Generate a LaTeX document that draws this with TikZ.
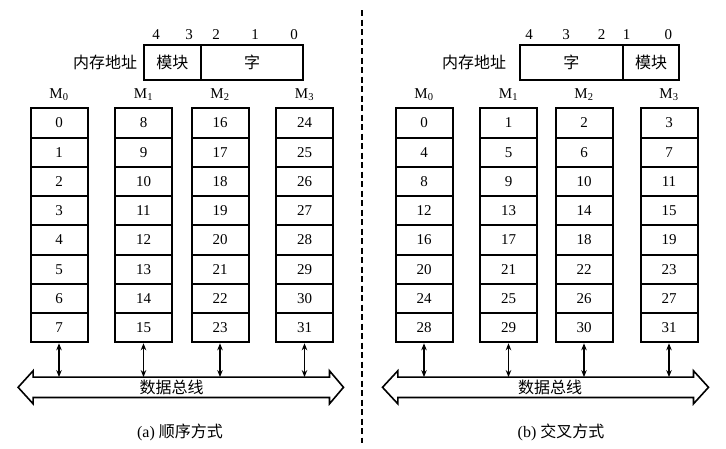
\documentclass[tikz,border=0pt]{standalone}
\usepackage{fontspec}
\setmainfont{Liberation Serif}
\newfontfamily\cjk{Noto Sans CJK SC}
\usetikzlibrary{arrows.meta,calc}
\begin{document}
\begin{tikzpicture}[x=1pt,y=-1pt,
  cell/.style={draw,line width=2pt,minimum width=57pt,minimum height=29.25pt,inner sep=0pt,font=\fontsize{15}{15}\selectfont},
  mlabel/.style={inner sep=0pt,font=\fontsize{15}{15}\selectfont},
  bitlabel/.style={inner sep=0pt,font=\fontsize{15}{15}\selectfont},
  addrbox/.style={draw,line width=2pt,minimum height=35pt,inner sep=0pt,font=\cjk\fontsize{16}{16}\selectfont},
  cjktext/.style={inner sep=0pt,font=\cjk\fontsize{16}{16}\selectfont},
  caption/.style={inner sep=0pt,font=\fontsize{16}{16}\selectfont},
  busbody/.style={minimum height=20pt,inner sep=0pt},
  busline/.style={line width=1.6pt,line join=miter},
  bio/.style={line width=1.2pt,{Stealth[length=7pt,width=5.5pt]}-{Stealth[length=7pt,width=5.5pt]}},
  divider/.style={line width=1.2pt,dash pattern=on 6pt off 3.5pt}
]
\useasboundingbox (0,0) rectangle (726,448);

% ---------- divider ----------
\coordinate (dtop) at (362,10);
\coordinate (dbot) at (362,443);
\draw[divider] (dtop) -- (dbot);

% ---------- left panel (a) ----------
\node[cjktext] (addrA) at (105,62) {内存地址};
\node[addrbox,minimum width=56.7pt] (modA) at (172.35,62.5) {模块};
\node[addrbox,minimum width=102.6pt] (wordA) at (252,62.5) {字};
\node[bitlabel] (bA4) at (156,35) {4};
\node[bitlabel] (bA3) at (189,35) {3};
\node[bitlabel] (bA2) at (216,35) {2};
\node[bitlabel] (bA1) at (255,35) {1};
\node[bitlabel] (bA0) at (294,35) {0};

\node[busbody,minimum width=296pt] (busA) at (181.3,387.3) {};
\draw[busline] (busA.north west) -- (busA.north east) -- ++(0,-6.3)
  -- ($(busA.east)+(14,0)$) -- ($(busA.south east)+(0,6.3)$)
  -- (busA.south east) -- (busA.south west) -- ++(0,6.3)
  -- ($(busA.west)+(-15,0)$) -- ($(busA.north west)+(0,-6.3)$) -- cycle;
\node[cjktext] (busTextA) at (171.5,387.3) {数据总线};

\foreach \cx [count=\c from 0] in {59,143.5,220,304.5} {
  \node[mlabel] (LM\c) at (\cx,95) {M\textsubscript{\c}};
  \foreach \r in {0,...,7} {
    \pgfmathtruncatemacro\v{8*\c+\r}
    \node[cell] (L\c-\r) at (\cx,{108.3+29.25*(\r+0.5)}) {\v};
  }
  \draw[bio] (L\c-7.south) -- (L\c-7.south |- busA.north);
}
\node[caption] (capA) at (180,432) {(a) {\cjk 顺序方式}};

% ---------- right panel (b) ----------
\node[cjktext] (addrB) at (474,62) {内存地址};
\node[addrbox,minimum width=102.7pt] (wordB) at (571.35,62.5) {字};
\node[addrbox,minimum width=56.6pt] (modB) at (651,62.5) {模块};
\node[bitlabel] (bB4) at (529,35) {4};
\node[bitlabel] (bB3) at (566,35) {3};
\node[bitlabel] (bB2) at (601.7,35) {2};
\node[bitlabel] (bB1) at (626.7,35) {1};
\node[bitlabel] (bB0) at (668.3,35) {0};

\node[busbody,minimum width=295.3pt] (busB) at (545.65,387.3) {};
\draw[busline] (busB.north west) -- (busB.north east) -- ++(0,-6.3)
  -- ($(busB.east)+(15,0)$) -- ($(busB.south east)+(0,6.3)$)
  -- (busB.south east) -- (busB.south west) -- ++(0,6.3)
  -- ($(busB.west)+(-15.3,0)$) -- ($(busB.north west)+(0,-6.3)$) -- cycle;
\node[cjktext] (busTextB) at (550,387.3) {数据总线};

\foreach \cx [count=\c from 0] in {424,508.5,584,669} {
  \node[mlabel] (RM\c) at (\cx,95) {M\textsubscript{\c}};
  \foreach \r in {0,...,7} {
    \pgfmathtruncatemacro\v{4*\r+\c}
    \node[cell] (R\c-\r) at (\cx,{108.3+29.25*(\r+0.5)}) {\v};
  }
  \draw[bio] (R\c-7.south) -- (R\c-7.south |- busB.north);
}
\node[caption] (capB) at (561,432) {(b) {\cjk 交叉方式}};
\end{tikzpicture}
\end{document}
